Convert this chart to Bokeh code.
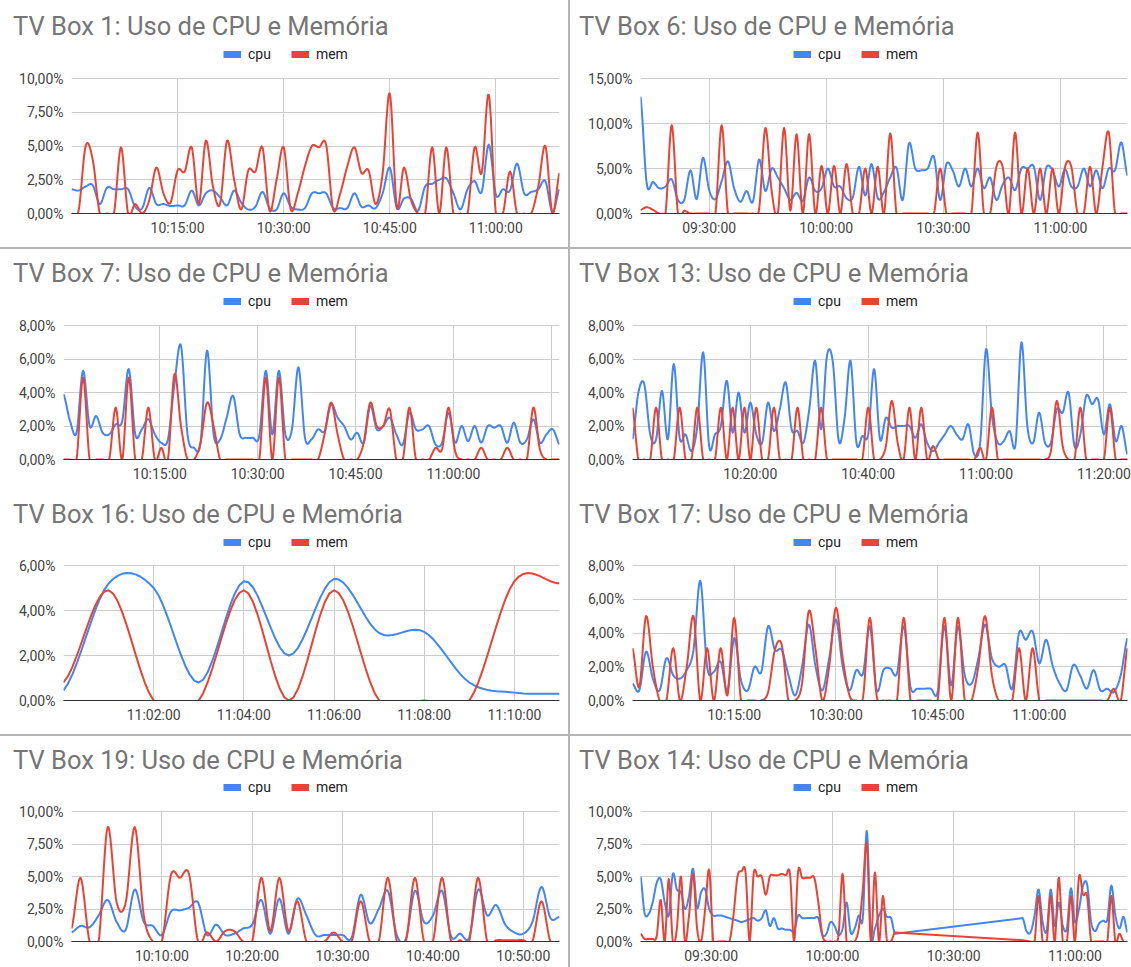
import numpy as np
from bokeh.plotting import figure
from bokeh.layouts import row, column
from bokeh.models import (Range1d, FixedTicker, DatetimeTickFormatter, Legend,
                          LegendItem, Spacer)
from bokeh.embed import file_html
from bokeh.resources import INLINE

DAY = "2024-01-01"
CPU_COLOR = "#4285F4"
MEM_COLOR = "#EA4335"
SEP = "#b4b4b4"
FONT = "Roboto"

# ---------------- data ----------------
# TV Box 1
box1_start, box1_step = "10:00:00", 60
box1_cpu = [1.8, 1.7, 2.0, 2.1, 0.7, 1.9, 1.8, 1.8, 1.8, 0.5, 0.4, 1.9, 0.7, 0.7, 0.55, 0.6, 0.6, 1.7, 0.6, 1.5,
            1.7, 1.2, 0.6, 1.7, 0.8, 0.3, 0.5, 1.6, 0.4, 0.3, 1.5, 0.5, 0.3, 0.4, 1.5, 1.5, 1.5, 0.4, 0.4, 0.4,
            1.5, 0.5, 0.6, 0.4, 1.5, 3.4, 0.4, 1.1, 1.1, 0.2, 2.0, 2.2, 2.5, 2.6, 1.5, 0.3, 1.8, 2.4, 1.6, 5.1,
            1.4, 1.8, 1.7, 3.7, 1.5, 1.6, 1.8, 2.4, 0.1, 1.8]
box1_mem = [0.0, 0.2, 5.0, 4.0, 0.0, 0.0, 0.0, 4.9, 0.0, 0.7, 0.0, 1.0, 3.4, 1.5, 0.8, 3.2, 3.1, 4.9, 0.7, 5.4,
            2.0, 0.7, 5.4, 2.5, 0.3, 3.2, 3.1, 4.9, 0.2, 2.5, 4.9, 0.3, 1.5, 3.5, 5.0, 4.9, 5.1, 0.3, 1.5, 3.5,
            4.9, 3.0, 3.2, 0.7, 3.0, 8.9, 0.5, 3.4, 1.0, 0.0, 0.0, 4.9, 0.0, 4.9, 0.0, 0.0, 0.0, 4.9, 3.0, 8.8,
            0.0, 0.0, 3.1, 0.0, 0.0, 0.0, 2.0, 5.0, 0.0, 3.0]
box1_xticks = ["10:15:00", "10:30:00", "10:45:00", "11:00:00"]
box1_yticks = [0, 2.5, 5, 7.5, 10]
box1_ylabels = ["0,00%", "2,50%", "5,00%", "7,50%", "10,00%"]

# TV Box 6
box6_start, box6_step = "09:12:24", 96
box6_cpu = [13.0, 3.3, 3.5, 2.8, 3.0, 3.8, 1.5, 1.5, 4.8, 1.6, 6.2, 2.6, 1.6, 3.6, 5.8, 2.8, 1.3, 2.5, 1.3, 6.0,
            2.5, 5.0, 4.0, 2.8, 1.5, 2.3, 1.4, 4.0, 2.5, 2.8, 5.0, 3.0, 3.0, 1.7, 1.8, 5.2, 2.0, 5.5, 1.7, 2.4,
            4.0, 5.1, 1.5, 7.8, 5.0, 4.8, 5.0, 6.3, 1.5, 5.5, 4.8, 3.0, 5.0, 3.0, 5.0, 2.8, 4.0, 1.5, 3.2, 4.0,
            2.6, 5.0, 5.0, 5.2, 1.5, 5.1, 4.8, 3.0, 4.9, 3.0, 3.0, 5.0, 3.0, 4.8, 2.8, 5.0, 4.8, 7.9, 4.2]
box6_mem = [0.4, 0.7, 0.4, 0.0, 0.0, 9.8, 0.0, 0.3, 0.0, 0.0, 0.0, 0.0, 0.0, 9.8, 0.0, 0.0, 0.0, 0.0, 0.0, 0.5,
            9.5, 2.5, 0.0, 9.5, 0.3, 8.8, 0.0, 8.8, 0.0, 5.3, 0.0, 5.3, 0.0, 5.5, 0.0, 0.0, 5.0, 0.0, 5.2, 0.0,
            8.9, 0.0, 0.0, 0.0, 0.0, 0.0, 0.0, 0.0, 5.0, 0.0, 0.0, 0.0, 0.0, 0.0, 9.0, 0.0, 0.0, 5.2, 5.2, 0.0,
            9.0, 0.0, 5.0, 0.0, 5.0, 0.0, 5.0, 0.0, 5.2, 5.2, 0.0, 0.0, 5.2, 0.0, 5.2, 9.0, 0.0, 0.0, 0.0]
box6_xticks = ["09:30:00", "10:00:00", "10:30:00", "11:00:00"]
box6_yticks = [0, 5, 10, 15]
box6_ylabels = ["0,00%", "5,00%", "10,00%", "15,00%"]

# TV Box 7
box7_start, box7_step = "10:00:15", 60
box7_cpu = [3.9, 2.3, 1.6, 5.3, 2.0, 2.6, 1.6, 1.5, 2.1, 2.3, 5.4, 1.5, 1.8, 2.4, 1.5, 1.0, 1.2, 4.5, 6.8, 1.5,
            0.7, 1.0, 6.5, 1.5, 1.2, 2.5, 3.8, 1.5, 1.3, 1.3, 1.4, 5.3, 1.5, 5.3, 1.5, 1.8, 5.5, 1.3, 1.2, 1.8,
            1.7, 3.3, 2.5, 2.0, 1.2, 1.6, 1.0, 3.2, 1.8, 2.0, 2.5, 1.5, 0.9, 2.8, 1.8, 1.8, 2.0, 0.9, 1.0, 2.8,
            1.0, 2.0, 1.1, 2.0, 1.0, 2.0, 1.9, 2.0, 1.0, 2.2, 1.0, 1.2, 2.4, 1.0, 1.5, 1.8, 0.9]
box7_mem = [0.0, 0.0, 0.0, 4.9, 0.0, 0.0, 0.0, 0.0, 3.1, 0.0, 4.9, 0.0, 0.0, 3.1, 0.0, 0.7, 0.0, 5.1, 2.0, 0.0,
            0.0, 1.0, 3.4, 2.0, 0.0, 0.0, 0.0, 0.0, 0.0, 0.0, 0.0, 4.9, 0.0, 4.9, 0.0, 0.0, 0.0, 0.0, 0.0, 0.0,
            1.5, 3.4, 1.5, 0.0, 0.0, 0.0, 1.0, 3.4, 2.0, 2.0, 3.0, 0.0, 0.0, 3.1, 0.0, 0.0, 0.0, 0.7, 0.6, 3.1,
            0.5, 0.0, 0.0, 0.0, 0.7, 0.0, 0.0, 0.0, 0.7, 0.0, 0.0, 0.0, 3.1, 0.6, 0.0, 0.0, 0.0]
box7_xticks = ["10:15:00", "10:30:00", "10:45:00", "11:00:00"]
box7_xgrid = ["10:15:00", "10:30:00", "10:45:00", "11:00:00", "11:15:00"]
box7_yticks = [0, 2, 4, 6, 8]
box7_ylabels = ["0,00%", "2,00%", "4,00%", "6,00%", "8,00%"]

# TV Box 13
box13_start, box13_step = "10:00:00", 60
box13_cpu = [1.2, 4.0, 4.5, 1.5, 1.2, 4.1, 1.2, 5.7, 1.3, 1.5, 0.5, 2.0, 6.4, 0.8, 1.5, 2.0, 4.7, 1.6, 4.0, 1.6,
             3.4, 1.5, 1.0, 3.4, 1.7, 3.0, 4.6, 1.8, 1.7, 1.0, 3.0, 5.9, 1.8, 6.2, 5.8, 1.1, 2.5, 5.9, 1.0, 1.4,
             1.5, 5.4, 1.2, 2.5, 1.9, 2.0, 2.0, 2.0, 1.3, 2.1, 1.0, 0.5, 1.0, 1.5, 2.0, 1.5, 1.2, 2.1, 0.3, 1.0,
             6.6, 2.6, 1.0, 1.1, 1.7, 0.9, 7.0, 2.0, 1.0, 2.8, 1.0, 1.0, 3.0, 2.8, 4.0, 0.8, 1.5, 3.8, 3.3, 3.6,
             1.5, 3.3, 1.1, 2.0, 0.3]
box13_mem = [3.1, 0.0, 0.0, 0.0, 3.1, 0.0, 0.0, 0.0, 3.1, 0.0, 0.0, 3.1, 0.0, 0.0, 0.0, 3.1, 0.0, 3.1, 0.0, 3.1,
             0.0, 3.1, 0.0, 0.0, 3.1, 0.0, 0.0, 0.0, 3.1, 0.0, 0.0, 0.0, 3.1, 0.0, 0.0, 0.0, 0.0, 0.0, 0.0, 0.0,
             3.1, 0.0, 0.0, 0.8, 3.5, 1.0, 0.0, 3.1, 0.0, 3.1, 0.0, 0.8, 0.0, 0.0, 0.0, 0.0, 0.0, 0.0, 0.0, 0.7,
             0.0, 3.1, 0.0, 0.0, 0.0, 0.0, 0.0, 0.0, 0.0, 0.0, 0.0, 0.5, 3.5, 0.8, 0.0, 0.0, 3.1, 0.0, 0.0, 0.0,
             0.0, 3.1, 0.0, 0.0, 0.0]
box13_xticks = ["10:20:00", "10:40:00", "11:00:00", "11:20:00"]
box13_yticks = [0, 2, 4, 6, 8]
box13_ylabels = ["0,00%", "2,00%", "4,00%", "6,00%", "8,00%"]

# TV Box 16
box16_start, box16_step = "11:00:00", 60
box16_cpu = [0.45, 5.2, 5.0, 0.8, 5.3, 2.0, 5.4, 3.0, 3.05, 0.8, 0.35, 0.3]
box16_mem = [0.8, 4.9, 0.0, 0.0, 4.9, 0.0, 4.9, 0.0, 0.0, 0.0, 5.3, 5.2]
box16_xticks = ["11:02:00", "11:04:00", "11:06:00", "11:08:00", "11:10:00"]
box16_yticks = [0, 2, 4, 6]
box16_ylabels = ["0,00%", "2,00%", "4,00%", "6,00%"]

# TV Box 17
box17_start, box17_step = "10:00:00", 60
box17_cpu = [1.0, 0.6, 2.9, 1.3, 0.6, 2.5, 1.5, 1.3, 1.8, 3.0, 7.1, 2.0, 1.7, 2.3, 0.6, 3.7, 1.2, 0.6, 2.0, 1.7,
             4.4, 3.0, 3.0, 1.5, 0.3, 2.0, 4.5, 2.0, 0.6, 2.5, 4.8, 2.0, 0.6, 1.8, 1.6, 4.4, 0.6, 1.8, 1.9, 1.6,
             4.4, 0.8, 0.7, 0.7, 0.7, 0.5, 4.4, 0.9, 4.4, 1.5, 1.0, 2.5, 4.5, 2.5, 2.0, 2.1, 0.7, 4.0, 3.6, 4.1,
             2.2, 3.6, 2.0, 1.0, 0.6, 2.1, 1.5, 0.7, 1.8, 0.6, 0.7, 0.5, 1.5, 3.7]
box17_mem = [3.1, 0.8, 5.0, 2.0, 0.0, 0.0, 3.1, 0.0, 2.0, 5.0, 0.0, 3.1, 0.0, 3.1, 0.3, 4.9, 0.0, 0.0, 0.0, 0.0,
             0.5, 3.0, 3.3, 0.0, 0.0, 1.0, 5.3, 3.0, 0.0, 2.0, 5.5, 2.5, 0.3, 0.0, 0.2, 4.9, 0.3, 0.0, 0.0, 0.0,
             4.9, 0.0, 0.0, 0.0, 0.0, 0.0, 4.9, 0.0, 4.9, 0.0, 0.0, 2.0, 5.0, 1.5, 0.0, 0.0, 0.0, 3.1, 0.0, 3.1,
             0.0, 0.0, 0.0, 0.0, 0.0, 0.0, 0.0, 0.0, 0.0, 0.0, 0.0, 0.7, 0.0, 3.1]
box17_xticks = ["10:15:00", "10:30:00", "10:45:00", "11:00:00"]
box17_yticks = [0, 2, 4, 6, 8]
box17_ylabels = ["0,00%", "2,00%", "4,00%", "6,00%", "8,00%"]

# TV Box 19
box19_start, box19_step = "10:00:00", 60
box19_cpu = [0.7, 1.2, 1.1, 2.0, 3.2, 1.5, 0.9, 4.0, 1.5, 1.2, 0.5, 2.3, 2.4, 2.6, 3.0, 0.5, 1.3, 0.5, 0.6, 1.0,
             1.3, 3.2, 0.6, 3.3, 0.6, 3.3, 2.0, 0.5, 0.5, 0.5, 0.5, 0.3, 3.6, 1.4, 2.5, 3.9, 0.5, 0.2, 3.9, 1.5,
             2.0, 3.9, 0.4, 0.6, 0.3, 4.0, 2.0, 2.8, 1.3, 0.7, 0.6, 1.5, 4.2, 1.8, 1.9]
box19_mem = [1.0, 4.9, 0.0, 0.0, 8.8, 3.0, 3.0, 8.8, 2.0, 0.0, 0.0, 5.1, 4.9, 5.2, 0.0, 0.7, 0.0, 0.8, 0.8, 0.0,
             0.0, 4.9, 0.8, 4.9, 0.8, 3.1, 0.0, 0.0, 0.0, 0.7, 0.0, 0.0, 3.1, 0.0, 0.0, 4.9, 0.0, 0.0, 4.9, 0.0,
             0.0, 4.9, 0.0, 0.1, 0.0, 4.9, 0.0, 0.1, 0.1, 0.1, 0.1, 0.0, 3.1, 0.0, 0.0]
box19_xticks = ["10:10:00", "10:20:00", "10:30:00", "10:40:00", "10:50:00"]
box19_yticks = [0, 2.5, 5, 7.5, 10]
box19_ylabels = ["0,00%", "2,50%", "5,00%", "7,50%", "10,00%"]

# TV Box 14 (two recording stretches with a gap between them)
box14_starts, box14_step = ["09:12:30", "10:47:00"], 60
box14_cpu_a = [5.0, 2.2, 2.1, 3.0, 4.5, 4.8, 3.0, 2.0, 5.2, 4.0, 3.8, 2.5, 3.5, 5.6, 2.6, 3.8, 4.0, 2.5, 2.0, 2.0,
               2.0, 1.9, 1.8, 1.7, 1.6, 1.5, 1.6, 1.7, 1.8, 1.6, 1.8, 2.4, 1.2, 1.8, 1.0, 1.0, 0.9, 0.9, 0.8, 2.0,
               1.8, 1.8, 1.8, 1.8, 1.8, 0.5, 0.6, 1.5, 1.2, 0.5, 1.0, 3.0, 0.7, 1.0, 2.0, 1.8, 8.5, 0.5, 1.0, 2.0,
               2.5, 1.9, 1.8, 0.6]
box14_cpu_b = [1.8, 0.8, 0.7, 2.0, 4.0, 1.5, 0.8, 4.0, 1.2, 3.0, 1.2, 1.0, 4.1, 1.5, 2.5, 4.3, 4.4, 1.5, 0.8, 1.4,
               1.6, 1.7, 4.3, 2.0, 1.0, 1.9, 0.7]
box14_mem_a = [0.6, 0.2, 0.2, 0.2, 0.4, 3.2, 0.0, 4.8, 0.0, 1.0, 5.0, 0.0, 2.0, 5.2, 1.0, 0.0, 2.5, 5.5, 0.0, 0.0,
               0.0, 0.0, 0.0, 2.0, 5.0, 5.4, 5.3, 0.0, 5.2, 5.0, 5.0, 3.6, 5.0, 5.1, 5.1, 5.2, 5.1, 5.2, 0.0, 5.4,
               4.9, 4.9, 4.9, 4.9, 3.0, 0.5, 0.0, 0.0, 0.0, 0.5, 5.2, 0.0, 0.0, 0.0, 1.0, 4.0, 7.5, 0.0, 5.3, 0.0,
               3.5, 0.0, 0.0, 0.7]
box14_mem_b = [0.1, 0.05, 0.0, 0.0, 3.5, 0.0, 0.0, 3.5, 0.0, 4.9, 0.0, 0.0, 3.5, 0.0, 5.0, 3.6, 3.5, 0.0, 0.0, 0.0,
               0.0, 0.0, 3.5, 0.0, 0.6, 0.0, 0.0]
box14_xticks = ["09:30:00", "10:00:00", "10:30:00", "11:00:00"]
box14_yticks = [0, 2.5, 5, 7.5, 10]
box14_ylabels = ["0,00%", "2,50%", "5,00%", "7,50%", "10,00%"]


# ---------------- helpers ----------------
def t_ms(hms):
    return float(np.datetime64(f"{DAY}T{hms}", "ms").astype(np.int64))


def times_for(start, step_s, n):
    return t_ms(start) + np.arange(n) * step_s * 1000.0


def smooth(x, y, k=10):
    """Render a 'function' style curve through the sampled points (cubic Hermite)."""
    x = np.asarray(x, float)
    y = np.asarray(y, float)
    n = len(x)
    if n < 3:
        return x, y
    dx = np.diff(x)
    base = np.median(dx)
    m = np.empty(n)
    m[1:-1] = (y[2:] - y[:-2]) / (x[2:] - x[:-2])
    m[0] = 0.5 * (y[1] - y[0]) / dx[0]
    m[-1] = 0.5 * (y[-1] - y[-2]) / dx[-1]
    xs, ys = [], []
    tt = np.linspace(0.0, 1.0, k, endpoint=False)
    h00 = 2 * tt ** 3 - 3 * tt ** 2 + 1
    h10 = tt ** 3 - 2 * tt ** 2 + tt
    h01 = -2 * tt ** 3 + 3 * tt ** 2
    h11 = tt ** 3 - tt ** 2
    for i in range(n - 1):
        h = dx[i]
        if h > 5 * base:
            xs.append(np.array([x[i]]))
            ys.append(np.array([y[i]]))
            continue
        xs.append(x[i] + tt * h)
        ys.append(h00 * y[i] + h10 * h * m[i] + h01 * y[i + 1] + h11 * h * m[i + 1])
    xs.append(np.array([x[-1]]))
    ys.append(np.array([y[-1]]))
    return np.concatenate(xs), np.concatenate(ys)


# row geometry (figure px): height, top of drawing area, top gridline, baseline (0 %), legend centre
ROWS = {
    1: (247, 42, 78, 213, 54.3),
    2: (240, 40, 76, 210, 51.7),
    3: (245, 41, 76, 211, 52.7),
    4: (231, 40, 75, 205, 50.7),
}
COLS = {
    # width, right border, title x, legend x (figure coords)
    "L": (568, 9, 12.6, 223),
    "R": (561, 4, 8.6, 223),
}
LEG_H = 16


def panel(title, t_cpu, cpu, t_mem, mem, xticks, yticks, ylabels, rowno, col, frame_left, xgrid=None):
    fig_h, f0, ftop, fbot, lcy = ROWS[rowno]
    fig_w, rb, tx, lx = COLS[col]
    ytop = yticks[-1]
    # the drawing area also holds the legend band; the value axis keeps its own scale
    y_ext = ytop * (fbot - f0) / (fbot - ftop)
    x0 = min(t_cpu[0], t_mem[0])
    x1 = max(t_cpu[-1], t_mem[-1])
    p = figure(width=fig_w, height=fig_h, x_axis_type="datetime", title=title,
               output_backend="svg", toolbar_location=None,
               x_range=Range1d(x0, x1), y_range=Range1d(yticks[0], y_ext),
               min_border_left=frame_left, min_border_right=rb,
               min_border_top=f0, min_border_bottom=fig_h - fbot)
    p.outline_line_color = None
    p.background_fill_color = "white"
    p.border_fill_color = "white"

    t = p.title
    t.text_font = FONT
    t.text_font_size = "25.5px"
    t.text_font_style = "normal"
    t.text_color = "#757575"
    t.align = "left"
    t.vertical_align = "bottom"
    t.offset = tx - frame_left
    t.standoff = 4

    # axes
    p.xaxis.ticker = FixedTicker(ticks=[t_ms(s) for s in xticks])
    fmt = "%H:%M:%S"
    p.xaxis.formatter = DatetimeTickFormatter(seconds=fmt, minsec=fmt, minutes=fmt, hourmin=fmt,
                                              hours=fmt, days=fmt, months=fmt, years=fmt)
    p.xaxis.axis_line_color = "#333333"
    p.xaxis.major_label_standoff = 6
    p.yaxis.ticker = FixedTicker(ticks=yticks)
    p.yaxis.major_label_overrides = {v: lab for v, lab in zip(yticks, ylabels)}
    p.yaxis.axis_line_color = None
    p.yaxis.major_label_standoff = 8
    for ax in (p.xaxis[0], p.yaxis[0]):
        ax.major_tick_line_color = None
        ax.minor_tick_line_color = None
        ax.major_tick_out = 0
        ax.major_tick_in = 0
        ax.minor_tick_out = 0
        ax.minor_tick_in = 0
        ax.major_label_text_font = FONT
        ax.major_label_text_font_size = "14px"
        ax.major_label_text_color = "#444444"

    p.xgrid.ticker = FixedTicker(ticks=[t_ms(s) for s in (xgrid or xticks)])
    p.xgrid.cross_bounds = (yticks[0], ytop)
    p.xgrid.grid_line_color = "#cccccc"
    p.ygrid.grid_line_color = "#cccccc"

    # series
    for tt_, vals, colr in ((t_cpu, cpu, CPU_COLOR), (t_mem, mem, MEM_COLOR)):
        xs, ys = smooth(tt_, vals)
        p.line(xs, ys, line_color=colr, line_width=2, line_join="round")

    # legend-only swatches (a single undefined point each, so nothing is drawn in the plot)
    sw_cpu = p.line(x=[x0], y=[np.nan], line_color=CPU_COLOR, line_width=7)
    sw_mem = p.line(x=[x0], y=[np.nan], line_color=MEM_COLOR, line_width=7)
    legend = Legend(items=[LegendItem(label="cpu", renderers=[sw_cpu]),
                           LegendItem(label="mem", renderers=[sw_mem])],
                    orientation="horizontal",
                    location=(lx - frame_left, (fbot - lcy) - LEG_H / 2),
                    border_line_color=None, background_fill_alpha=0,
                    padding=0, margin=0, spacing=20, glyph_width=18, glyph_height=LEG_H,
                    label_height=LEG_H, label_standoff=7,
                    label_text_font=FONT, label_text_font_size="14px",
                    label_text_color="#222222")
    p.add_layout(legend, "center")
    return p


def simple(name, start, step, cpu, mem, xticks, yticks, ylabels, rowno, col, frame_left, xgrid=None):
    return panel(name, times_for(start, step, len(cpu)), cpu, times_for(start, step, len(mem)), mem,
                 xticks, yticks, ylabels, rowno, col, frame_left, xgrid)


p1 = simple("TV Box 1: Uso de CPU e Memória", box1_start, box1_step, box1_cpu, box1_mem,
            box1_xticks, box1_yticks, box1_ylabels, 1, "L", 71)
p6 = simple("TV Box 6: Uso de CPU e Memória", box6_start, box6_step, box6_cpu, box6_mem,
            box6_xticks, box6_yticks, box6_ylabels, 1, "R", 70)
p7 = simple("TV Box 7: Uso de CPU e Memória", box7_start, box7_step, box7_cpu, box7_mem,
            box7_xticks, box7_yticks, box7_ylabels, 2, "L", 63, box7_xgrid)
p13 = simple("TV Box 13: Uso de CPU e Memória", box13_start, box13_step, box13_cpu, box13_mem,
             box13_xticks, box13_yticks, box13_ylabels, 2, "R", 62)
p16 = simple("TV Box 16: Uso de CPU e Memória", box16_start, box16_step, box16_cpu, box16_mem,
             box16_xticks, box16_yticks, box16_ylabels, 3, "L", 63)
p17 = simple("TV Box 17: Uso de CPU e Memória", box17_start, box17_step, box17_cpu, box17_mem,
             box17_xticks, box17_yticks, box17_ylabels, 3, "R", 62)
p19 = simple("TV Box 19: Uso de CPU e Memória", box19_start, box19_step, box19_cpu, box19_mem,
             box19_xticks, box19_yticks, box19_ylabels, 4, "L", 71)

t14_cpu = np.concatenate([times_for(box14_starts[0], box14_step, len(box14_cpu_a)),
                          times_for(box14_starts[1], box14_step, len(box14_cpu_b))])
t14_mem = np.concatenate([times_for(box14_starts[0], box14_step, len(box14_mem_a)),
                          times_for(box14_starts[1], box14_step, len(box14_mem_b))])
p14 = panel("TV Box 14: Uso de CPU e Memória", t14_cpu, box14_cpu_a + box14_cpu_b,
            t14_mem, box14_mem_a + box14_mem_b,
            box14_xticks, box14_yticks, box14_ylabels, 4, "R", 70)

TOTAL_W = COLS["L"][0] + 2 + COLS["R"][0]


def vline(h):
    return Spacer(width=2, height=h, styles={"background-color": SEP})


def hline():
    return Spacer(width=TOTAL_W, height=2, styles={"background-color": SEP})


h1 = ROWS[1][0]
h23 = ROWS[2][0] + ROWS[3][0]
h4 = ROWS[4][0]
layout = column(
    row(p1, vline(h1), p6),
    hline(),
    row(column(p7, p16), vline(h23), column(p13, p17)),
    hline(),
    row(p19, vline(h4), p14),
)

open("out.html", "w").write(file_html(layout, INLINE))
